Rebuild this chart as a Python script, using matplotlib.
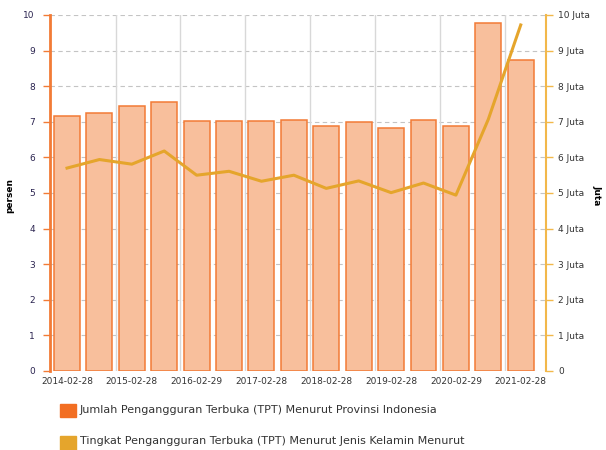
import matplotlib.pyplot as plt
import numpy as np

# semesters Feb/Aug 2014..2021; only February dates are labelled
periods = ['2014-02-28', '2014-08-31', '2015-02-28', '2015-08-31', '2016-02-29',
           '2016-08-31', '2017-02-28', '2017-08-31', '2018-02-28', '2018-08-31',
           '2019-02-28', '2019-08-31', '2020-02-29', '2020-08-31', '2021-02-28']
jumlah_juta = [7.15, 7.24, 7.45, 7.56, 7.02, 7.03, 7.01, 7.04, 6.87, 7.00,
               6.82, 7.05, 6.88, 9.77, 8.75]
tpt_persen = [5.70, 5.94, 5.81, 6.18, 5.50, 5.61, 5.33, 5.50, 5.13, 5.34,
              5.01, 5.28, 4.94, 7.07, 9.72]
left_ticks = list(range(0, 11))
right_labels = ['0'] + [f'{v} Juta' for v in range(1, 11)]

BAR_FILL = '#F8BF9C'
BAR_EDGE = '#F27B36'
BAR_KEY = '#F26E22'
LINE_COLOR = '#E5A52C'
RIGHT_AXIS = '#F2B84B'
TEXT = '#333333'

plt.rcParams['font.family'] = ['DejaVu Sans']

fig = plt.figure(figsize=(6.06, 4.5), dpi=100)
ax = fig.add_axes([50 / 606, 1 - 371 / 450, 496 / 606, 356 / 450])
ax2 = ax.twinx()

x = np.arange(len(periods))
ax.bar(x, jumlah_juta, width=0.8, color=BAR_FILL, edgecolor=BAR_EDGE, linewidth=1.1, zorder=2)
ax.plot(x, tpt_persen, color=LINE_COLOR, linewidth=2.2, zorder=3)

ax.set_xlim(-0.525, 14.78)
ax.set_ylim(0, 10)
ax2.set_ylim(0, 10)

ax.set_xticks(x[::2])
ax.set_xticklabels([p for p in periods[::2]], fontsize=6.5, color=TEXT)
ax.tick_params(axis='x', length=0, pad=4)

ax.set_yticks(left_ticks)
ax.set_yticklabels([str(v) for v in left_ticks], fontsize=6.5, color='#2b2450')
ax.tick_params(axis='y', length=5, width=1, color=BAR_EDGE, pad=6)

ax2.set_yticks(left_ticks)
ax2.set_yticklabels(right_labels, fontsize=6.5, color=TEXT)
ax2.tick_params(axis='y', length=5, width=1, color=RIGHT_AXIS, pad=4)

# grid: dashed horizontals, solid verticals between label pairs
for v in left_ticks:
    ax.axhline(v, color='#c4c4c4', linestyle=(0, (4, 3)), linewidth=0.8, zorder=1)
for xv in np.arange(1.5, 14, 2):
    ax.axvline(xv, color='#d8d8d8', linewidth=1, zorder=1)

for sp in ('top', 'bottom'):
    ax.spines[sp].set_visible(False)
    ax2.spines[sp].set_visible(False)
ax.spines['right'].set_visible(False)
ax.spines['left'].set_visible(False)
ax2.spines['left'].set_color(BAR_EDGE)
ax2.spines['left'].set_linewidth(2)
ax2.spines['right'].set_color(RIGHT_AXIS)
ax2.spines['right'].set_linewidth(1.5)

ax.set_ylabel('persen', fontsize=6.5, fontweight='bold', color='black')
ax.yaxis.set_label_coords(-0.072, 0.494)
ax2.set_ylabel('Juta', fontsize=6.5, fontweight='bold', color='black', rotation=270, va='center')
ax2.yaxis.set_label_coords(1.102, 0.494)

# legend below the plot
fig.patches.append(plt.Rectangle((60 / 606, 1 - 417 / 450), 16 / 606, 13 / 450,
                                 transform=fig.transFigure, color=BAR_KEY))
fig.text(80 / 606, 1 - 410 / 450, 'Jumlah Pengangguran Terbuka (TPT) Menurut Provinsi Indonesia',
         fontsize=8, color=TEXT, va='center')
fig.patches.append(plt.Rectangle((60 / 606, 1 - 450 / 450), 16 / 606, 14 / 450,
                                 transform=fig.transFigure, color=LINE_COLOR))
fig.text(80 / 606, 1 - 441 / 450, 'Tingkat Pengangguran Terbuka (TPT) Menurut Jenis Kelamin Menurut',
         fontsize=8, color=TEXT, va='center')

fig.savefig('out.png', dpi=100)
